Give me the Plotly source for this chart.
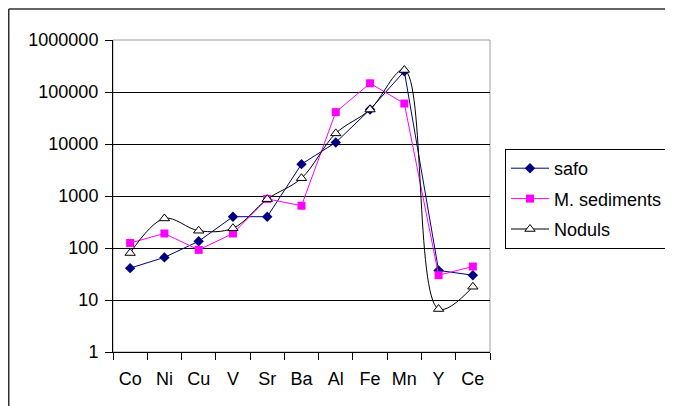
import plotly.graph_objects as go

categories = ["Co", "Ni", "Cu", "V", "Sr", "Ba", "Al", "Fe", "Mn", "Y", "Ce"]
safo = [41, 66, 135, 400, 400, 4100, 10700, 46000, 250000, 37, 30]
m_sediments = [125, 190, 92, 190, 880, 650, 41000, 147000, 60000, 30, 44]
noduls = [80, 370, 215, 240, 870, 2200, 16000, 46000, 265000, 6.7, 18]

tick_vals = [1, 10, 100, 1000, 10000, 100000, 1000000]
tick_text = ["1", "10", "100", "1000", "10000", "100000", "1000000"]

FONT = "Liberation Sans, Arial, sans-serif"
FS = 18

fig = go.Figure()
fig.add_trace(go.Scatter(
    x=categories, y=safo, name="safo", mode="lines+markers",
    line=dict(color="#000080", width=1),
    marker=dict(symbol="diamond", size=8, color="#000080"),
    legendgroup="a"))
fig.add_trace(go.Scatter(
    x=categories, y=m_sediments, name="M. sediments", mode="lines+markers",
    line=dict(color="#FF00FF", width=1),
    marker=dict(symbol="square", size=8, color="#FF00FF"),
    legendgroup="b"))
fig.add_trace(go.Scatter(
    x=categories, y=noduls, name="Noduls", mode="lines+markers",
    line=dict(color="#000000", width=1, shape="spline", smoothing=1),
    marker=dict(symbol="triangle-up", size=9, color="white",
                line=dict(color="#000000", width=1)),
    legendgroup="c"))

# page has an 8px body margin, so the figure starts at (8, 8) in the window
W, H = 673, 398
L, T = 105, 32
R = W - 482
B = H - 344
pw, ph = W - L - R, H - T - B

left_x = (0.75 - L) / pw
top_y = 1 + (T - 1) / ph

fig.update_layout(
    width=W, height=H,
    margin=dict(l=L, r=R, t=T, b=B, pad=0),
    paper_bgcolor="white", plot_bgcolor="white",
    font=dict(family=FONT, size=FS, color="black"),
    showlegend=True,
    legend=dict(
        x=(497 - L) / pw, y=(344 - 141) / ph, xanchor="left", yanchor="top",
        bordercolor="black", borderwidth=1, bgcolor="white",
        font=dict(family=FONT, size=FS, color="black"),
        tracegroupgap=4, itemwidth=38,
    ),
    xaxis=dict(
        type="category", showline=True, linecolor="black", linewidth=1,
        ticks="outside", ticklen=7, tickcolor="black", tickson="boundaries",
        showgrid=False, zeroline=False, range=[-0.5, 10.5],
        tickfont=dict(family=FONT, size=FS, color="black"),
        ticklabelstandoff=10, tickangle=0, automargin=False,
    ),
    yaxis=dict(
        type="log", range=[0, 6], showline=True, linecolor="black", linewidth=1,
        ticks="outside", ticklen=7, tickcolor="black",
        tickvals=tick_vals, ticktext=tick_text,
        showgrid=True, gridcolor="black", gridwidth=1, zeroline=False,
        tickfont=dict(family=FONT, size=FS, color="black"),
        ticklabelstandoff=3, automargin=False,
    ),
    shapes=[
        dict(type="rect", xref="paper", yref="paper", x0=0, y0=0, x1=1, y1=1,
             line=dict(color="#A0A0A0", width=1), layer="below"),
        dict(type="line", xref="paper", yref="paper",
             x0=left_x, y0=top_y, x1=(W + 30 - L) / pw, y1=top_y,
             line=dict(color="#303030", width=1.5), layer="below"),
        dict(type="line", xref="paper", yref="paper",
             x0=left_x, y0=-(H + 30 - (H - B)) / ph, x1=left_x, y1=top_y,
             line=dict(color="#303030", width=1.5), layer="below"),
    ],
)

fig.write_html("out.html")
